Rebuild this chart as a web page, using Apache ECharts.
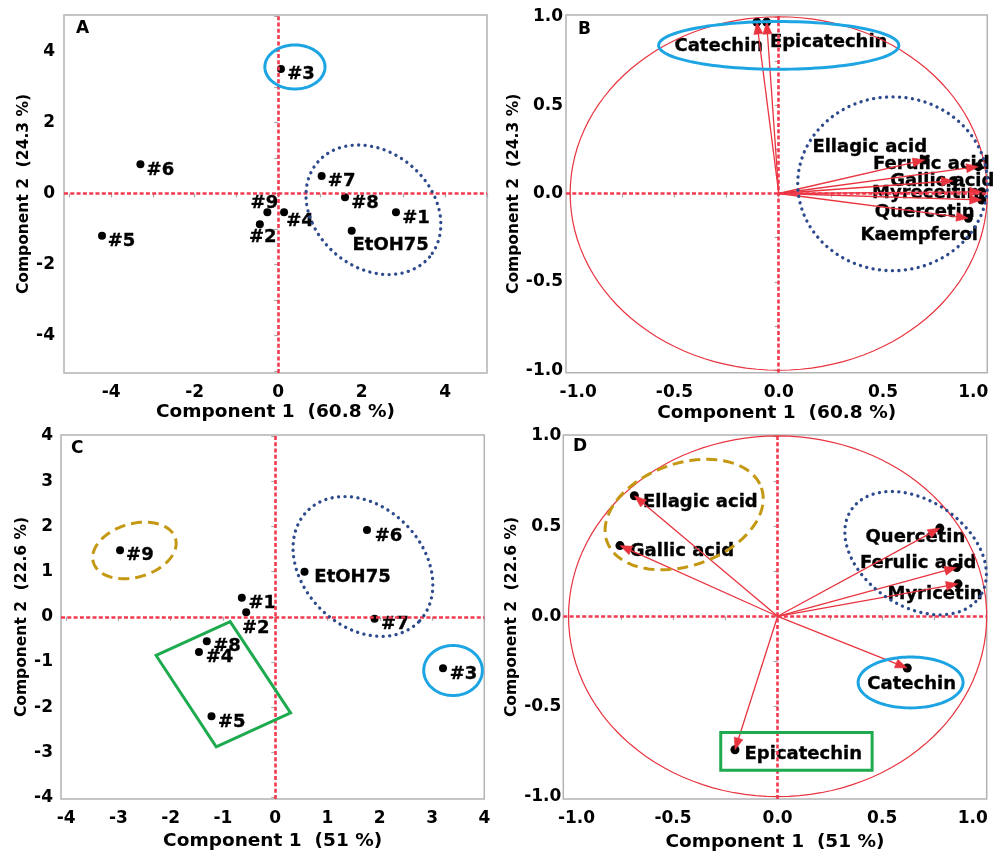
<!DOCTYPE html>
<html>
<head>
<meta charset="utf-8">
<script src="https://cdn.jsdelivr.net/npm/echarts@6.0.0/dist/echarts.min.js"></script>
<style>
html,body{margin:0;padding:0;background:#fff;}
#chart{width:993px;height:855px;}
</style>
</head>
<body>
<div id="chart"></div>
<script>
// ---------------- DATA ----------------
// Panel A : scores (PC1 60.8 %, PC2 24.3 %)
const samplesA = ['#1', '#2', '#3', '#4', '#5', '#6', '#7', '#8', '#9', 'EtOH75'];
const pc1A = [2.82, -0.44, 0.065, 0.14, -4.22, -3.30, 1.04, 1.60, -0.26, 1.76];
const pc2A = [-0.53, -0.87, 3.51, -0.53, -1.19, 0.82, 0.49, -0.11, -0.53, -1.05];

// Panel B : loadings (PC1 60.8 %, PC2 24.3 %)
const compoundsB = ['Catechin', 'Epicatechin', 'Ellagic acid', 'Ferulic acid', 'Gallic acid', 'Myreceitin', 'Quercetin', 'Kaempferol'];
const load1B = [-0.105, -0.058, 0.70, 0.957, 0.837, 0.973, 0.973, 0.909];
const load2B = [0.97, 0.97, 0.19, 0.152, 0.072, 0.01, -0.037, -0.14];

// Panel C : scores (PC1 51 %, PC2 22.6 %)
const samplesC = ['#1', '#2', '#3', '#4', '#5', '#6', '#7', '#8', '#9', 'EtOH75'];
const pc1C = [-0.64, -0.556, 3.21, -1.46, -1.22, 1.755, 1.90, -1.31, -2.97, 0.56];
const pc2C = [0.42, 0.10, -1.14, -0.78, -2.2, 1.92, -0.045, -0.54, 1.47, 0.995];

// Panel D : loadings (PC1 51 %, PC2 22.6 %)
const compoundsD = ['Ellagic acid', 'Gallic acid', 'Quercetin', 'Ferulic acid', 'Myricetin', 'Catechin', 'Epicatechin'];
const load1D = [-0.685, -0.754, 0.776, 0.856, 0.863, 0.62, -0.204];
const load2D = [0.668, 0.392, 0.489, 0.27, 0.18, -0.287, -0.74];

// Tick values / labels
const ticksA = [-5, -4, -3, -2, -1, 0, 1, 2, 3, 4, 5];
const labelsA = [-4, -2, 0, 2, 4];
const ticksC = [-4, -3, -2, -1, 0, 1, 2, 3, 4];
const labelsC = [-4, -3, -2, -1, 0, 1, 2, 3, 4];
const ticksLoad = [-1, -0.75, -0.5, -0.25, 0, 0.25, 0.5, 0.75, 1];
const labelsLoad = [-1, -0.5, 0, 0.5, 1];

const titles = {
  A: ['Component 1  (60.8 %)', 'Component 2  (24.3 %)'],
  C: ['Component 1  (51 %)', 'Component 2  (22.6 %)']
};

// ---------------- LABEL PLACEMENT (pixel offsets from mark centre) ----------------
const offA = [[20, 6], [3, 13], [20, 5], [16, 9.5], [19.5, 6], [20, 5.5], [20, 5.7], [20, 5.7], [-3, -9.3], [39, 15]];
const offB = [[-38, 24], [62, 20.5], [-55, -12.5], [-47, -2], [-11, 0.5], [-56, 2], [-57, 12.5], [-49, 17]];
const offC = [[20.5, 5.4], [9.6, 15.6], [20.5, 6.3], [20.5, 5.3], [20.2, 6.3], [21.5, 6.3], [20.3, 5.2], [20.2, 5], [19.8, 5.1], [48, 5.2]];
const offD = [[66, 6.5], [62, 5.5], [-24.5, 9.7], [-38.4, -4.4], [-23, 11], [4.4, 16.7], [68.3, 5]];

// ---------------- ANNOTATION SHAPES (in data units; rot in degrees on screen) ----------------
const BLUE = '#1ca5e2', NAVY = '#2d4b8c', GOLD = '#c49812', GREEN = '#1eaa4f', RED = '#e8343f', REFRED = '#f23a4f';
const shapesA = [
  { kind: 'ellipse', cx: 0.40, cy: 3.565, a: 0.72, b: 0.62, rot: 0, color: BLUE, style: 'solid' },
  { kind: 'ellipse', cx: 2.28, cy: -0.46, a: 1.756, b: 1.636, rot: 40, color: NAVY, style: 'dot' }
];
const shapesB = [
  { kind: 'ellipse', cx: 0, cy: 0, a: 1, b: 1, rot: 0, color: RED, style: 'thin' },
  { kind: 'ellipse', cx: 0.0, cy: 0.838, a: 0.576, b: 0.135, rot: 0, color: BLUE, style: 'solid' },
  { kind: 'ellipse', cx: 0.546, cy: 0.055, a: 0.455, b: 0.492, rot: 0, color: NAVY, style: 'dot' }
];
const shapesC = [
  { kind: 'ellipse', cx: -2.695, cy: 1.467, a: 0.818, b: 0.591, rot: -16, color: GOLD, style: 'dash' },
  { kind: 'ellipse', cx: 1.678, cy: 1.113, a: 1.504, b: 1.327, rot: 45, color: NAVY, style: 'dot' },
  { kind: 'ellipse', cx: 3.402, cy: -1.188, a: 0.561, b: 0.553, rot: 0, color: BLUE, style: 'solid' },
  { kind: 'poly', pts: [[-2.28, -0.856], [-0.862, -0.11], [0.293, -2.124], [-1.13, -2.876]], color: GREEN, style: 'solid' }
];
const shapesD = [
  { kind: 'ellipse', cx: 0, cy: 0, a: 1, b: 1, rot: 0, color: RED, style: 'thin' },
  { kind: 'ellipse', cx: -0.447, cy: 0.564, a: 0.391, b: 0.284, rot: -19, color: GOLD, style: 'dash' },
  { kind: 'ellipse', cx: 0.660, cy: 0.350, a: 0.371, b: 0.293, rot: 34, color: NAVY, style: 'dot' },
  { kind: 'ellipse', cx: 0.636, cy: -0.367, a: 0.251, b: 0.141, rot: 0, color: BLUE, style: 'solid' },
  { kind: 'poly', pts: [[-0.272, -0.644], [0.452, -0.644], [0.452, -0.854], [-0.272, -0.854]], color: GREEN, style: 'solid' }
];

// ---------------- HELPERS ----------------
const FONT = 'DejaVu Sans';
function lineStyleFor(s) {
  if (s.style === 'dot') return { lineWidth: 3.3, lineDash: [0.1, 6.4], lineCap: 'round' };
  if (s.style === 'dash') return { lineWidth: 3, lineDash: [11, 6], lineCap: 'butt' };
  if (s.style === 'thin') return { lineWidth: 1.2 };
  return { lineWidth: 3 };
}
function shapeRenderer(shapes) {
  return function (params, api) {
    const s = shapes[params.dataIndex];
    let pts = [];
    if (s.kind === 'ellipse') {
      const c = api.coord([s.cx, s.cy]);
      const u = api.size([1, 1]);
      const a = s.a * u[0], b = s.b * u[1];
      const th = s.rot * Math.PI / 180;
      const n = 120;
      for (let i = 0; i < n; i++) {
        const t = i / n * 2 * Math.PI;
        pts.push([
          c[0] + a * Math.cos(t) * Math.cos(th) - b * Math.sin(t) * Math.sin(th),
          c[1] + a * Math.cos(t) * Math.sin(th) + b * Math.sin(t) * Math.cos(th)
        ]);
      }
    } else {
      pts = s.pts.map(p => api.coord(p));
    }
    return {
      type: 'polygon',
      shape: { points: pts },
      style: Object.assign({ stroke: s.color, fill: 'none' }, lineStyleFor(s)),
      silent: true
    };
  };
}
function arrowRenderer(params, api) {
  const o = api.coord([0, 0]);
  const p = api.coord([api.value(0), api.value(1)]);
  const dx = p[0] - o[0], dy = p[1] - o[1];
  const L = Math.sqrt(dx * dx + dy * dy);
  const ux = dx / L, uy = dy / L;
  const hl = 12, hw = 4.6;
  const bx = p[0] - ux * hl, by = p[1] - uy * hl;
  return {
    type: 'group',
    children: [
      { type: 'line', shape: { x1: o[0], y1: o[1], x2: bx + ux * 2, y2: by + uy * 2 }, style: { stroke: RED, lineWidth: 1.3 } },
      { type: 'polygon', shape: { points: [[p[0], p[1]], [bx - uy * hw, by + ux * hw], [bx + uy * hw, by - ux * hw]] }, style: { fill: RED, stroke: RED, lineWidth: 0.5 } }
    ]
  };
}
const labelTextStyle = { fontFamily: FONT, fontWeight: 'bold', fontSize: 18, color: '#000', textBorderColor: '#000', textBorderWidth: 0.35 };
function pointData(names, xs, ys, offs) {
  return names.map((n, i) => ({ name: n, value: [xs[i], ys[i]], label: { offset: offs[i] } }));
}
const refLine = {
  silent: true, symbol: ['none', 'none'], animation: false,
  label: { show: false },
  lineStyle: { color: REFRED, type: [4, 2.3], width: 2.6, opacity: 1 },
  data: [{ xAxis: 0 }, { yAxis: 0 }]
};
function scatterSeries(idx, names, xs, ys, offs, size) {
  return {
    type: 'scatter', xAxisIndex: idx, yAxisIndex: idx, z: 3,
    symbol: 'circle', symbolSize: size,
    itemStyle: { color: '#000', opacity: 1 },
    label: Object.assign({
      show: true, position: 'inside', align: 'center', verticalAlign: 'middle',
      formatter: p => '{t|' + p.name + '}',
      rich: { t: labelTextStyle }
    }, labelTextStyle),
    data: pointData(names, xs, ys, offs),
    markLine: refLine
  };
}
function shapeSeries(idx, shapes) {
  return {
    type: 'custom', xAxisIndex: idx, yAxisIndex: idx, z: 5, silent: true,
    renderItem: shapeRenderer(shapes),
    data: shapes.map(s => s.kind === 'ellipse' ? [s.cx, s.cy] : s.pts[0])
  };
}
function arrowSeries(idx, xs, ys) {
  return {
    type: 'custom', xAxisIndex: idx, yAxisIndex: idx, z: 4, silent: true,
    renderItem: arrowRenderer,
    data: xs.map((x, i) => [x, ys[i]])
  };
}
const tickLabelStyle = { fontFamily: FONT, fontWeight: 'bold', fontSize: 17, color: '#000' };
const nameStyleX = { fontFamily: FONT, fontWeight: 'bold', fontSize: 18.5, color: '#000' };
const nameStyleY = { fontFamily: FONT, fontWeight: 'bold', fontSize: 15.5, color: '#000' };
function fmtLoad(v) {
  const s = (Math.abs(v) < 1e-9 ? 0 : v).toFixed(1);
  if (v <= -1) return '{l|' + s + '}';
  if (v >= 1) return '{r|' + s + '}';
  return s;
}
function xAxisDef(idx, min, max, ticks, labels, name, gap, isLoad) {
  const lab = Object.assign({ customValues: labels, margin: 11 }, tickLabelStyle);
  if (isLoad) {
    lab.formatter = fmtLoad;
    lab.rich = {
      l: Object.assign({ padding: [0, 0, 0, 16] }, tickLabelStyle),
      r: Object.assign({ padding: [0, 28, 0, 0] }, tickLabelStyle)
    };
  } else {
    lab.formatter = v => String(v);
  }
  return {
    type: 'value', gridIndex: idx, min: min, max: max,
    name: name, nameLocation: 'middle', nameGap: gap, nameTextStyle: nameStyleX,
    axisLine: { show: false },
    axisTick: { show: true, customValues: ticks, length: 4, lineStyle: { color: '#a8a8a8', width: 1.2 } },
    axisLabel: lab,
    splitLine: { show: false }
  };
}
function yAxisDef(idx, min, max, ticks, labels, name, gap, margin, isLoad) {
  return {
    type: 'value', gridIndex: idx, min: min, max: max,
    name: name, nameLocation: 'middle', nameGap: gap, nameTextStyle: nameStyleY,
    axisLine: { show: false },
    axisTick: { show: true, customValues: ticks, length: 4, lineStyle: { color: '#a8a8a8', width: 1.2 } },
    axisLabel: Object.assign({
      customValues: labels, margin: margin, padding: [8, 0, 0, 0],
      formatter: isLoad ? (v => (Math.abs(v) < 1e-9 ? 0 : v).toFixed(1)) : (v => String(v))
    }, tickLabelStyle),
    splitLine: { show: false }
  };
}
const gridStyle = { show: true, borderColor: '#b3b3b3', borderWidth: 1.5, backgroundColor: '#fff' };
const letterStyle = { fontFamily: FONT, fontWeight: 'bold', fontSize: 17, color: '#000' };

const option = {
  animation: false,
  backgroundColor: '#fff',
  title: [
    { text: 'A', left: 76, top: 20, textStyle: letterStyle, padding: 0 },
    { text: 'B', left: 578, top: 21, textStyle: letterStyle, padding: 0 },
    { text: 'C', left: 71, top: 440, textStyle: letterStyle, padding: 0 },
    { text: 'D', left: 573, top: 438, textStyle: letterStyle, padding: 0 }
  ],
  grid: [
    Object.assign({ left: 64, top: 15, width: 423, height: 358 }, gridStyle),
    Object.assign({ left: 566, top: 15, width: 421.3, height: 357.7 }, gridStyle),
    Object.assign({ left: 61, top: 435, width: 423.3, height: 364 }, gridStyle),
    Object.assign({ left: 563.3, top: 435, width: 423.4, height: 364 }, gridStyle)
  ],
  xAxis: [
    xAxisDef(0, -5.13, 5.0, ticksA, labelsA, titles.A[0], 30, false),
    xAxisDef(1, -1.02, 1.0, ticksLoad, labelsLoad, titles.A[0], 31, true),
    xAxisDef(2, -4.1, 4.0, ticksC, labelsC, titles.C[0], 33, false),
    xAxisDef(3, -1.025, 1.0, ticksLoad, labelsLoad, titles.C[0], 34, true)
  ],
  yAxis: [
    yAxisDef(0, -5.06, 5.03, ticksA, labelsA, titles.A[1], 31, 9, false),
    yAxisDef(1, -1.014, 1.01, ticksLoad, labelsLoad, titles.A[1], 44, 3, true),
    yAxisDef(2, -4.03, 4.02, ticksC, labelsC, titles.C[1], 29, 8, false),
    yAxisDef(3, -1.013, 1.005, ticksLoad, labelsLoad, titles.C[1], 43, 2, true)
  ],
  series: [
    scatterSeries(0, samplesA, pc1A, pc2A, offA, 8),
    shapeSeries(0, shapesA),

    scatterSeries(1, compoundsB, load1B, load2B, offB, 9),
    arrowSeries(1, load1B, load2B),
    shapeSeries(1, shapesB),

    scatterSeries(2, samplesC, pc1C, pc2C, offC, 8),
    shapeSeries(2, shapesC),

    scatterSeries(3, compoundsD, load1D, load2D, offD, 9),
    arrowSeries(3, load1D, load2D),
    shapeSeries(3, shapesD)
  ]
};
const chart = echarts.init(document.getElementById('chart'), null, { renderer: 'canvas' });
chart.setOption(option);
</script>
</body>
</html>
